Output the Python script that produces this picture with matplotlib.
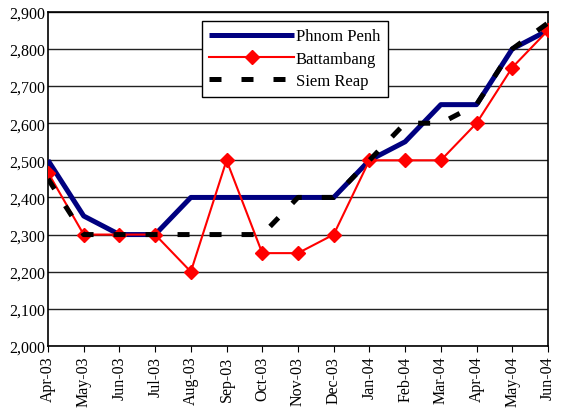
import numpy as np
import matplotlib.pyplot as plt
from matplotlib.ticker import FuncFormatter

plt.rcParams['font.family'] = ['Liberation Serif', 'DejaVu Serif']

months = ['Apr-03', 'May-03', 'Jun-03', 'Jul-03', 'Aug-03', 'Sep-03', 'Oct-03', 'Nov-03',
          'Dec-03', 'Jan-04', 'Feb-04', 'Mar-04', 'Apr-04', 'May-04', 'Jun-04']
phnom_penh = [2500, 2350, 2300, 2300, 2400, 2400, 2400, 2400, 2400, 2500, 2550, 2650, 2650, 2800, 2850]
battambang = [2467, 2300, 2300, 2300, 2200, 2500, 2250, 2250, 2300, 2500, 2500, 2500, 2600, 2750, 2850]
siem_reap = [2450, 2300, 2300, 2300, 2300, 2300, 2300, 2400, 2400, 2500, 2600, 2600, 2650, 2800, 2870]

x = np.arange(len(months))

fig = plt.figure(figsize=(5.62, 4.14), dpi=100)
ax = fig.add_axes([0.0854, 0.162, 0.8896, 0.807])

ax.plot(x, phnom_penh, color='#000080', lw=3.6, label='Phnom Penh', zorder=3, solid_capstyle='butt')
ax.plot(x, battambang, color='#ff0000', lw=1.5, marker='D', markersize=7, label='Battambang', zorder=4)
ax.plot(x, siem_reap, color='black', lw=3.6, dashes=(2.4, 4), label='Siem Reap', zorder=5)

ax.set_xlim(0, len(months) - 1)
ax.set_ylim(2000, 2900)
ax.set_yticks(np.arange(2000, 2901, 100))
ax.yaxis.set_major_formatter(FuncFormatter(lambda v, p: '{:,.0f}'.format(v)))
ax.set_xticks(x)
ax.set_xticklabels(months, rotation=90)
ax.tick_params(axis='x', direction='out', length=4, labelsize=11.5, color='black', pad=3)
ax.tick_params(axis='y', length=0, labelsize=11.5, pad=2)
ax.grid(axis='y', color='#222222', lw=1)
for s in ax.spines.values():
    s.set_color('black')
    s.set_linewidth(1.2)

leg = ax.legend(loc='upper left', bbox_to_anchor=(0.359, 0.947), bbox_transform=fig.transFigure,
                fontsize=12, handlelength=5.1, handletextpad=0.1, labelspacing=0.38,
                fancybox=False, framealpha=1, edgecolor='black', borderpad=0.45,
                borderaxespad=0)
leg.get_frame().set_linewidth(1)

fig.savefig('out.png', dpi=100)
